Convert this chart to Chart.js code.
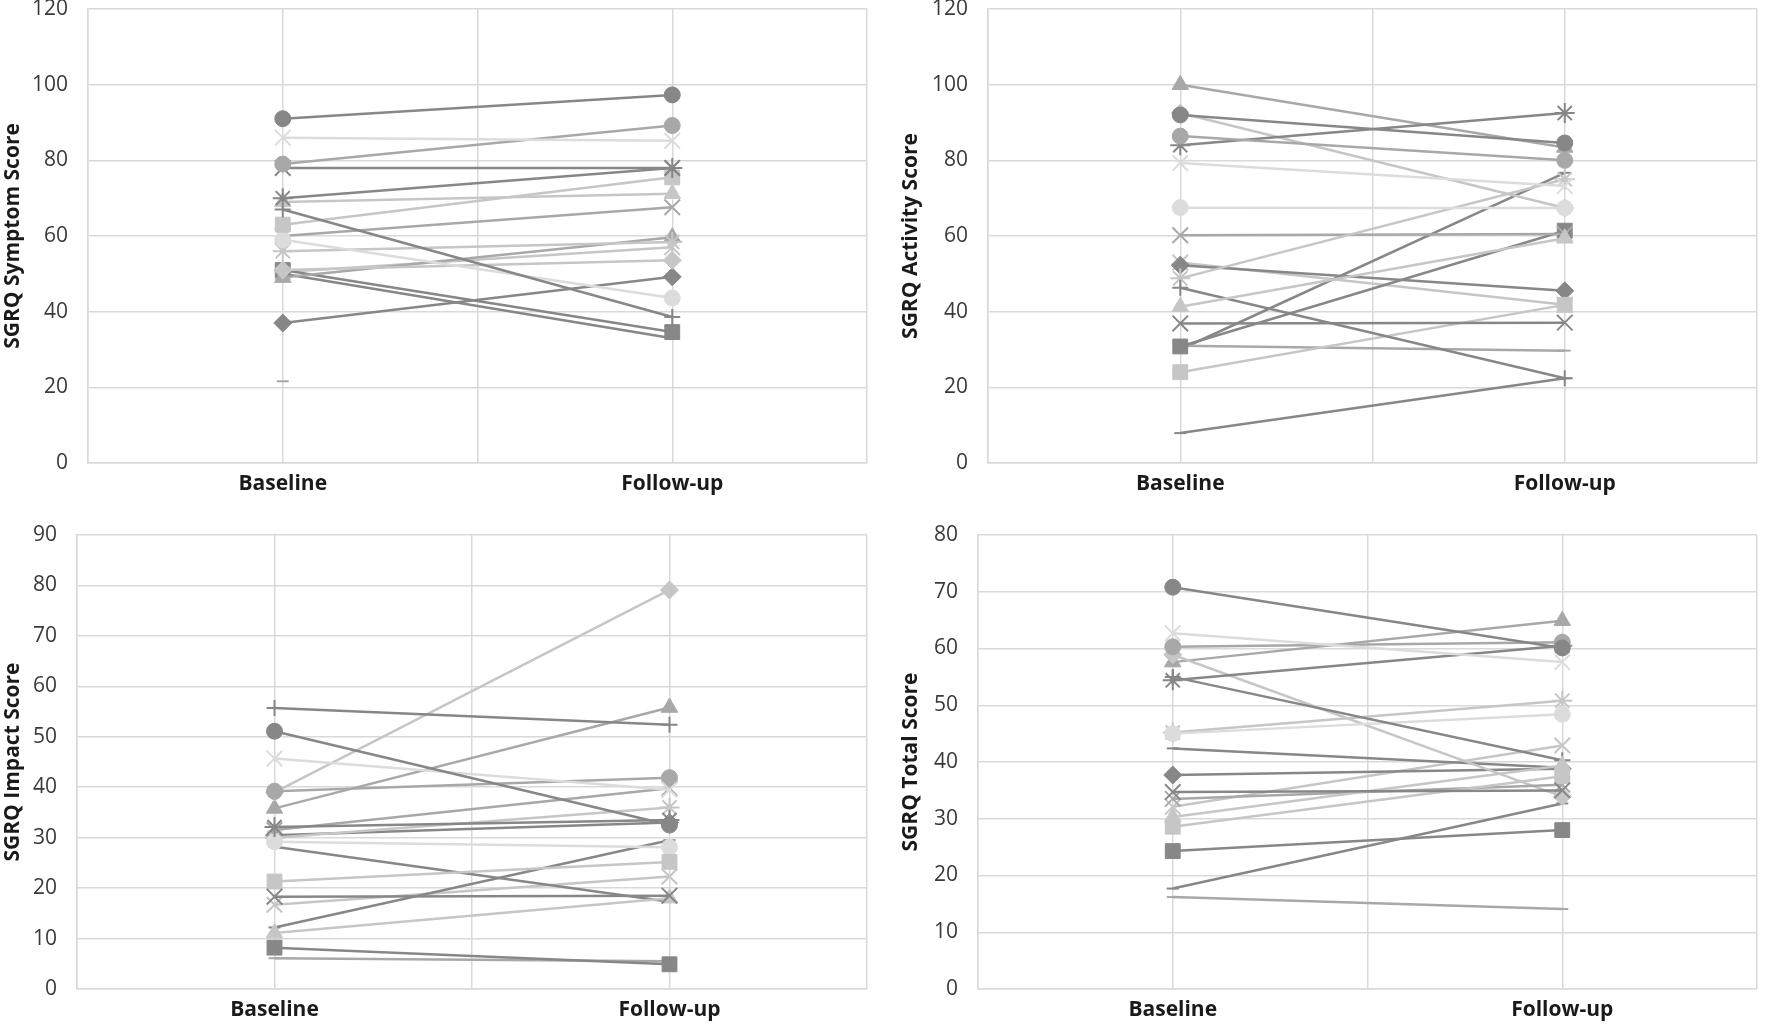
<!DOCTYPE html>
<html><head><meta charset="utf-8">
<script src="https://cdn.jsdelivr.net/npm/chart.js@4.4.1/dist/chart.umd.min.js"></script>
<style>
html,body{margin:0;padding:0;background:#fff;width:1770px;height:1023px;overflow:hidden;position:relative}
.p{position:absolute}
</style></head><body>
<div class="p" style="left:0;top:-4px;width:880px;height:514px"><canvas id="c1"></canvas></div>
<div class="p" style="left:898px;top:-4px;width:872px;height:514px"><canvas id="c2"></canvas></div>
<div class="p" style="left:0;top:522px;width:880px;height:501px"><canvas id="c3"></canvas></div>
<div class="p" style="left:898px;top:522px;width:872px;height:501px"><canvas id="c4"></canvas></div>
<script>
// ---- data ----
const categories = ['Baseline', 'Follow-up'];

const symptomBaseline  = [91, 86, 79, 78, 70, 69, 67, 63, 59, 56, 60, 51, 49, 51, 50, 37, 21.6, null, 50.5];
const symptomFollowup  = [97.3, 85.2, 89.2, 78, 78, 71.2, 38.6, 75.5, 43.6, 58.4, 67.6, 53.6, 59.7, 34.6, 33, 49.2, null, null, 57];

const activityBaseline = [92, 79.3, 86.4, 36.9, 84, 41.3, 46.3, 24, 67.5, 48.8, 60.2, 92.5, 100, 30.8, 7.9, 52.3, 31, 30, 53];
const activityFollowup = [84.6, 73.2, 80, 37.1, 92.5, 59.4, 22.4, 41.8, 67.4, 75, 60.5, 67.4, 83.4, 61.4, 22.4, 45.5, 29.7, 76.7, 41.8];

const impactBaseline   = [51.1, 45.7, 39.2, 18.3, 32.1, 11.1, 55.7, 21.3, 29.2, 30, 31.5, 39, 35.8, 8.2, 12.2, 30.5, 6.1, 28.2, 16.7];
const impactFollowup   = [32.5, 39.5, 41.9, 18.5, 33.5, 18, 52.4, 25.2, 28.1, 36, 39.8, 79.1, 55.8, 4.9, 29.5, 33, 5.5, 17.3, 22.3];

const totalBaseline    = [70.8, 62.7, 60.3, 34.7, 54.4, 30.3, 55, 28.6, 45, 45.2, 33.5, 58.9, 57.6, 24.3, 17.7, 37.7, 16.2, 42.4, 32.1];
const totalFollowup    = [60.1, 57.6, 61.1, 35, 60.5, 39.4, 40.3, 37.5, 48.4, 50.8, 36, 33.9, 64.9, 28, 32.7, 38.8, 14.1, 39, 42.9];

const symptomTicks  = [0, 20, 40, 60, 80, 100, 120];
const activityTicks = [0, 20, 40, 60, 80, 100, 120];
const impactTicks   = [0, 10, 20, 30, 40, 50, 60, 70, 80, 90];
const totalTicks    = [0, 10, 20, 30, 40, 50, 60, 70, 80];

// ---- styles (per patient series) ----
const DARK = '#878787', MID = '#a8a8a8', LIGHT = '#c6c6c6', XLIGHT = '#dcdcdc';
const seriesMarker = ['circle','crossRot','circle','crossRot','star','triangle','cross','rect','circle','star',
                      'crossRot','rectRot','triangle','rect','line','rectRot','line','line','crossRot'];
const seriesColor  = [DARK, XLIGHT, MID, DARK, DARK, LIGHT, DARK, LIGHT, XLIGHT, LIGHT,
                      MID, LIGHT, MID, DARK, DARK, DARK, MID, DARK, LIGHT];
const markerRadius = {circle:8, crossRot:11, star:10, triangle:9.5, cross:8, rect:10.5, rectRot:9, line:6};
const strokeMarker = {crossRot:true, star:true, cross:true, line:true};

function datasetsFor(base, fol) {
  return base.map((b, i) => {
    const m = seriesMarker[i], c = seriesColor[i];
    return {
      data: [{x: 0, y: b}, {x: 1, y: fol[i]}],
      borderColor: c,
      backgroundColor: c,
      borderWidth: 2.5,
      pointStyle: m,
      pointRadius: markerRadius[m],
      pointBorderWidth: strokeMarker[m] ? 2 : 1,
      pointBorderColor: c,
      pointBackgroundColor: c,
      spanGaps: false,
      tension: 0
    };
  });
}

const FONT = "'Open Sans', 'DejaVu Sans', sans-serif";
function makeChart(id, base, fol, ticks, title, yWidth, xHeight, padRight) {
  const step = ticks[1] - ticks[0];
  new Chart(document.getElementById(id), {
    type: 'line',
    data: { datasets: datasetsFor(base, fol) },
    options: {
      responsive: true, maintainAspectRatio: false, animation: false,
      layout: { padding: { top: 5, right: padRight, left: 0, bottom: 0 } },
      plugins: { legend: { display: false }, tooltip: { enabled: false } },
      scales: {
        x: {
          type: 'linear', min: -0.5, max: 1.5,
          afterBuildTicks: s => { s.ticks = [-0.5, 0, 0.5, 1, 1.5].map(v => ({value: v})); },
          ticks: {
            autoSkip: false, maxRotation: 0, padding: 8, color: '#1a1a1a',
            font: { family: FONT, size: 21, weight: 'bold' },
            callback: v => (Number.isInteger(v) ? categories[v] : '')
          },
          grid: { color: '#d9d9d9', lineWidth: 1.5, drawTicks: false },
          border: { color: '#d9d9d9', width: 1.5 },
          afterFit: s => { s.height = xHeight; s.paddingLeft = 0; s.paddingRight = 0; }
        },
        y: {
          min: ticks[0], max: ticks[ticks.length - 1],
          afterBuildTicks: s => { s.ticks = ticks.map(v => ({value: v})); },
          ticks: { stepSize: step, padding: 20, color: '#3a3a3a', font: { family: FONT, size: 21 } },
          grid: { color: '#d9d9d9', lineWidth: 1.5, drawTicks: false },
          border: { color: '#d9d9d9', width: 1.5 },
          title: { display: true, text: title, color: '#1a1a1a', padding: { top: 0, bottom: 0 },
                   font: { family: FONT, size: 21, weight: 'bold' } },
          afterFit: s => { s.width = yWidth; s.paddingTop = 0; s.paddingBottom = 0; }
        }
      }
    }
  });
}

makeChart('c1', symptomBaseline, symptomFollowup, symptomTicks, 'SGRQ Symptom Score', 88, 47, 13);
makeChart('c2', activityBaseline, activityFollowup, activityTicks, 'SGRQ Activity Score', 90, 47, 0);
makeChart('c3', impactBaseline, impactFollowup, impactTicks, 'SGRQ Impact Score', 77, 34, 13);
makeChart('c4', totalBaseline, totalFollowup, totalTicks, 'SGRQ Total Score', 80, 34, 0);
</script>
</body></html>
